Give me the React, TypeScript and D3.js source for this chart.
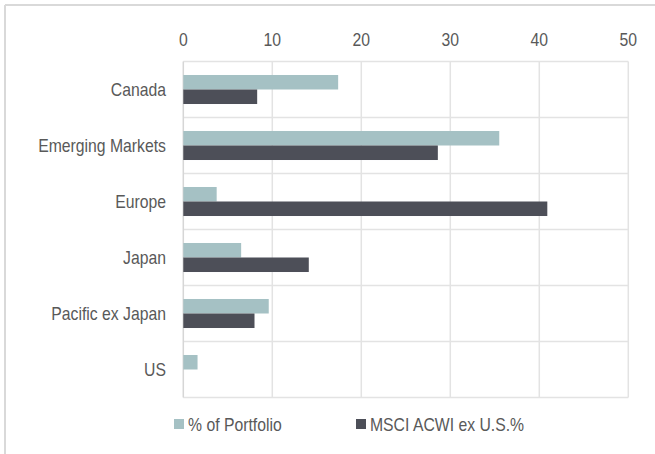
import React from "react";
import * as d3 from "d3";

const categories = ["Canada", "Emerging Markets", "Europe", "Japan", "Pacific ex Japan", "US"];
const portfolio = [17.4, 35.5, 3.75, 6.5, 9.6, 1.6];
const msci = [8.3, 28.6, 40.9, 14.1, 8.0, 0];
const seriesNames = ["% of Portfolio", "MSCI ACWI ex U.S.%"];
const xTicks = [0, 10, 20, 30, 40, 50];

const W = 655;
const H = 454;
const colors = ["#A5C1C4", "#4D4F58"];
const textColor = "#595959";
const gridColor = "#E3E3E3";
const font = "'Liberation Sans', Arial, sans-serif";
const NARROW = 0.83;

function NText(props: { x: number; y: number; anchor?: string; size: number; children: React.ReactNode }) {
  return (
    <text
      transform={`translate(${props.x},${props.y}) scale(${NARROW},1)`}
      textAnchor={props.anchor || "start"}
      fontSize={props.size}
      fill={textColor}
    >
      {props.children}
    </text>
  );
}

export default function App() {
  const x = d3.scaleLinear().domain([0, 50]).range([183.3, 628.3]);
  const y = d3.scaleBand<string>().domain(categories).range([61.5, 397.5]).padding(0);
  const inner = d3
    .scaleBand<string>()
    .domain(seriesNames)
    .range([0, y.bandwidth()])
    .paddingInner(0)
    .paddingOuter(0.93);
  const values = [portfolio, msci];
  const fs = 19;

  return (
    <svg
      width={W}
      height={H}
      style={{ position: "absolute", left: 0, top: 0, display: "block", background: "#fff" }}
      fontFamily={font}
    >
      {/* outer frame */}
      <line x1={5} x2={W} y1={5} y2={5} stroke="#D9D9D9" strokeWidth={2} />
      <line x1={5} x2={5} y1={5} y2={H} stroke="#D9D9D9" strokeWidth={2} />

      {/* horizontal grid */}
      {categories.map((c) => (
        <line key={"h" + c} x1={x(0)} x2={x(50)} y1={y(c)!} y2={y(c)!} stroke={gridColor} strokeWidth={1.5} />
      ))}
      <line x1={x(0)} x2={x(50)} y1={y.range()[1]} y2={y.range()[1]} stroke={gridColor} strokeWidth={1.5} />

      {/* vertical grid */}
      {xTicks.map((t) => (
        <line
          key={"v" + t}
          x1={x(t)}
          x2={x(t)}
          y1={y.range()[0]}
          y2={y.range()[1]}
          stroke={t === 0 ? "#D6D6D6" : gridColor}
          strokeWidth={1.5}
        />
      ))}

      {/* tick labels */}
      {xTicks.map((t) => (
        <NText key={"t" + t} x={x(t)} y={46} anchor="middle" size={fs}>
          {t}
        </NText>
      ))}

      {/* bars */}
      {categories.map((c, i) =>
        values.map((vals, s) =>
          vals[i] > 0 ? (
            <rect
              key={c + s}
              x={x(0)}
              y={y(c)! + inner(seriesNames[s])!}
              width={x(vals[i]) - x(0)}
              height={inner.bandwidth()}
              fill={colors[s]}
            />
          ) : null
        )
      )}

      {/* category labels */}
      {categories.map((c) => (
        <NText key={"l" + c} x={166} y={y(c)! + y.bandwidth() / 2 + 6.8} anchor="end" size={fs}>
          {c}
        </NText>
      ))}

      {/* legend */}
      {seriesNames.map((n, s) => {
        const lx = [174, 356][s];
        return (
          <g key={"lg" + n}>
            <rect x={lx} y={419} width={10} height={10} fill={colors[s]} />
            <NText x={lx + 14} y={430.5} size={fs}>
              {n}
            </NText>
          </g>
        );
      })}
    </svg>
  );
}
